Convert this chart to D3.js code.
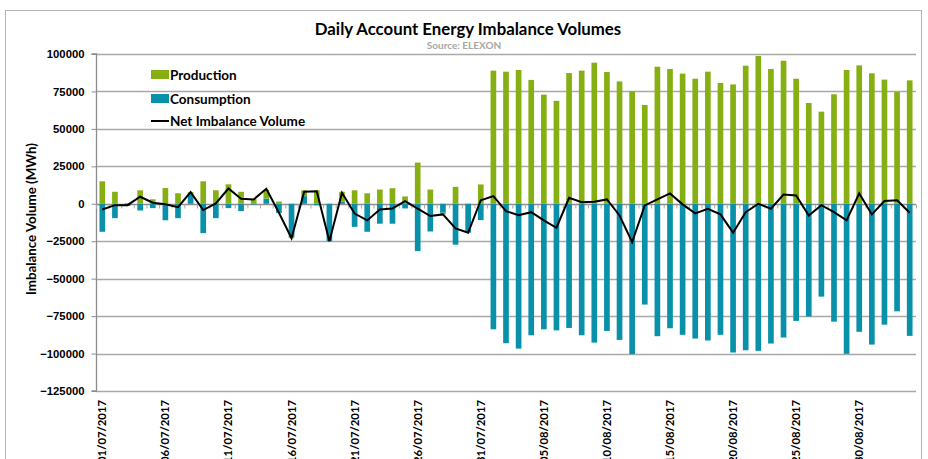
<!DOCTYPE html>
<html>
<head>
<meta charset="utf-8">
<script src="https://d3js.org/d3.v7.min.js"></script>
<style>
	body { margin: 0; background: #fff; }
	svg { display: block; font-family: Lato, "Open Sans", sans-serif; }
	.axis text { font-weight: bold; fill: #000; font-variant-numeric: tabular-nums; }
</style>
</head>
<body>
<svg id="chart" width="928" height="459"></svg>
<script>
'use strict';

// daily values in MWh, one per day starting 01/07/2017
var startDay = new Date(2017, 6, 1);
var production = [15000, 8000, 500, 9000, 3000, 10500, 7000, 800, 15000, 9000,
	13000, 8000, 3300, 5800, 1500, -500, 3900, 9000, 0, 6500,
	9000, 7000, 9500, 10400, 4900, 27500, 9500, -1100, 11300, 0,
	12900, 88900, 88200, 89300, 82700, 72900, 68700, 87300, 88900, 94200,
	88000, 81700, 75100, 66000, 91500, 90000, 86900, 83500, 88200, 80700,
	79700, 92200, 98700, 90000, 95500, 83500, 67300, 61500, 73100, 89300,
	92400, 87100, 82900, 74700, 82400];
var consumption = [-18700, -9600, -1400, -4500, -2900, -11000, -9600, 7000, -19600, -9600,
	-2900, -4900, -500, 3500, -6200, -22500, 5100, -1000, -25000, 1500,
	-15400, -18700, -13300, -13300, -3100, -31600, -18500, -6000, -27300, -19300,
	-10900, -83800, -93100, -96700, -87800, -83800, -84500, -82900, -87800, -92700,
	-84900, -90900, -100400, -67300, -88400, -83100, -87500, -90000, -91300, -87500,
	-99300, -97800, -98200, -93300, -89300, -78200, -75300, -62000, -78700, -100200,
	-85500, -94000, -80700, -71800, -88200];
var netImbalance = [-3800, -900, -900, 4700, 700, -300, -2300, 7800, -4200, 200,
	10200, 3300, 2900, 10000, -6000, -23000, 8000, 8400, -25000, 7300,
	-6500, -11100, -3800, -3100, 1800, -3300, -8200, -7100, -16400, -19300,
	2400, 5100, -4900, -7600, -5600, -11100, -16000, 4000, 1100, 1300,
	2900, -7800, -25600, -1100, 2900, 6900, -400, -6400, -3300, -7100,
	-19300, -5600, 0, -3300, 6200, 5600, -7800, -900, -5600, -11100,
	6900, -7100, 1800, 2400, -6000];
var yTicks = [100000, 75000, 50000, 25000, 0, -25000, -50000, -75000, -100000, -125000];

var colors = { production: '#86af13', consumption: '#0a91aa', net: '#000' };

var days = d3.timeDay.range(startDay, d3.timeDay.offset(startDay, production.length));
var fmtDay = d3.timeFormat('%d/%m/%Y');

var rows = days.map(function (d, i) {
	return { day: d, production: production[i], consumption: consumption[i], net: netImbalance[i] };
});

var margin = { top: 54, right: 12, bottom: 68, left: 96 },
	width = 928 - margin.left - margin.right,
	height = 391 - margin.top;

var svg = d3.select('#chart');

// outer chart border
svg.append('rect')
	.attr('x', 5.5).attr('y', 10.5)
	.attr('width', 916).attr('height', 470)
	.attr('fill', 'none').attr('stroke', '#b4b4b4');

svg.append('text')
	.attr('x', 468).attr('y', 34.5)
	.attr('text-anchor', 'middle')
	.style('font-size', '16.8px').style('font-weight', 'bold')
	.text('Daily Account Energy Imbalance Volumes');

svg.append('text')
	.attr('x', 464).attr('y', 48.5)
	.attr('text-anchor', 'middle')
	.style('font-size', '10px').style('font-weight', 'bold').attr('fill', '#a6a6a6')
	.text('Source: ELEXON');

svg.append('text')
	.attr('transform', 'translate(36,219) rotate(-90)')
	.attr('text-anchor', 'middle')
	.style('font-size', '13.3px').style('font-weight', 'bold')
	.text('Imbalance Volume (MWh)');

var g = svg.append('g')
	.attr('transform', 'translate(' + margin.left + ',' + margin.top + ')');

var x = d3.scaleBand()
	.domain(days)
	.range([0, width])
	.paddingInner(0.55)
	.paddingOuter(0.275);

// linear index scale used for the tick marks between categories
var xIdx = d3.scaleLinear().domain([0, days.length]).range([0, width]);

var y = d3.scaleLinear()
	.domain([-125000, 100000])
	.range([height, 0]);

// horizontal gridlines
g.append('g')
	.selectAll('line')
	.data(yTicks)
	.join('line')
	.attr('x1', 0).attr('x2', width)
	.attr('y1', function (d) { return Math.round(y(d)) + 0.5; })
	.attr('y2', function (d) { return Math.round(y(d)) + 0.5; })
	.attr('stroke', function (d) { return d === 0 ? '#8c8c8c' : '#a9a9a9'; })
	.attr('stroke-width', 1.3);

// y axis
var axisY = g.append('g')
	.attr('class', 'axis')
	.attr('transform', 'translate(0.5,0)')
	.call(d3.axisLeft(y).tickValues(yTicks).tickSize(5).tickPadding(7).tickFormat(d3.format('d')));
axisY.selectAll('text').style('font-size', '11.3px');
axisY.selectAll('line, path').attr('stroke', '#8c8c8c');
axisY.select('.domain').attr('d', 'M-5,' + height + 'H0V0H-5').attr('stroke-width', 1.3);

// stacked columns, consumption nearest zero then production
var stack = d3.stack()
	.keys(['consumption', 'production'])
	.offset(d3.stackOffsetDiverging);
var series = stack(rows);

g.append('g')
	.selectAll('g')
	.data(series)
	.join('g')
	.attr('fill', function (s) { return colors[s.key]; })
	.selectAll('rect')
	.data(function (s) { return s; })
	.join('rect')
	.attr('x', function (d) { return x(d.data.day); })
	.attr('width', x.bandwidth())
	.attr('y', function (d) { return y(Math.max(d[0], d[1])); })
	.attr('height', function (d) { return Math.abs(y(d[0]) - y(d[1])); });

// category tick marks along the zero line
var axisX = g.append('g')
	.attr('transform', 'translate(0,' + (Math.round(y(0)) + 0.5) + ')')
	.call(d3.axisBottom(xIdx).tickValues(d3.range(0, days.length + 1)).tickSize(4).tickFormat(''));
axisX.select('.domain').remove();
axisX.selectAll('line').attr('stroke', '#a9a9a9');

// date labels at the bottom, every 5th day
var labelDays = days.filter(function (d, i) { return i % 5 === 0; });
g.append('g')
	.attr('class', 'axis')
	.selectAll('text')
	.data(labelDays)
	.join('text')
	.attr('transform', function (d) {
		return 'translate(' + (x(d) + x.bandwidth() / 2 + 4) + ',' + (height + 9) + ') rotate(-90)';
	})
	.attr('text-anchor', 'end')
	.style('font-size', '11.3px')
	.text(function (d) { return fmtDay(d); });

// net imbalance line
var line = d3.line()
	.x(function (d) { return x(d.day) + x.bandwidth() / 2; })
	.y(function (d) { return y(d.net); });

g.append('path')
	.datum(rows)
	.attr('fill', 'none')
	.attr('stroke', colors.net)
	.attr('stroke-width', 2)
	.attr('stroke-linejoin', 'miter')
	.attr('d', line);

// legend
var legend = svg.append('g').attr('transform', 'translate(151,70)');
var legendItems = [
	{ label: 'Production', key: 'production', type: 'rect' },
	{ label: 'Consumption', key: 'consumption', type: 'rect' },
	{ label: 'Net Imbalance Volume', key: 'net', type: 'line' }
];
legendItems.forEach(function (item, i) {
	var row = legend.append('g').attr('transform', 'translate(0,' + (i * 24) + ')');
	if (item.type === 'rect') {
		row.append('rect').attr('width', 18).attr('height', 9).attr('fill', colors[item.key]);
	} else {
		row.append('line').attr('x1', 0).attr('x2', 18).attr('y1', 3).attr('y2', 3)
			.attr('stroke', colors.net).attr('stroke-width', 2);
	}
	row.append('text')
		.attr('x', 19).attr('y', item.type === 'rect' ? 9.5 : 8)
		.style('font-size', '13.5px').style('font-weight', 'bold')
		.text(item.label);
});
</script>
</body>
</html>
